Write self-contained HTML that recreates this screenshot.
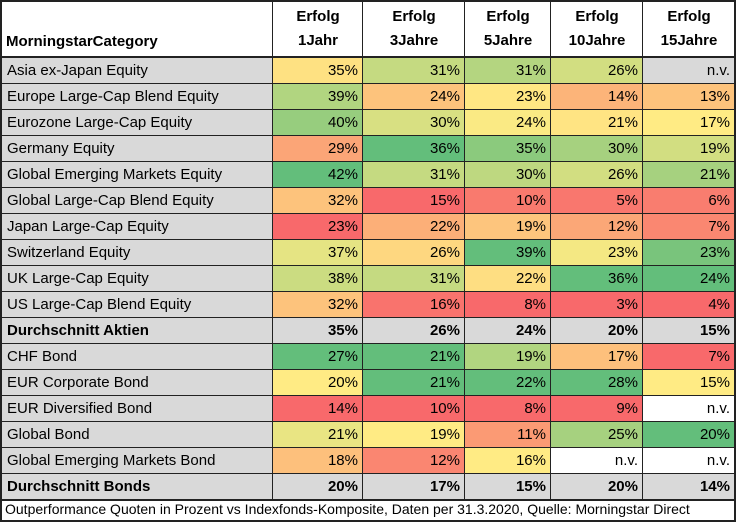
<!DOCTYPE html>
<html><head><meta charset="utf-8"><style>
body{margin:0;background:#fff;}
#w{position:relative;width:736px;height:523px;font-family:"Liberation Sans",Arial,sans-serif;overflow:hidden}
.c{position:absolute;box-sizing:border-box;border-left:1px solid #222;border-top:1px solid #222;font-size:15px;line-height:25px;white-space:nowrap;overflow:hidden}
.l{padding-left:5px;background:#d9d9d9}
.n{text-align:right;padding-right:5px}
.h{background:#fff;font-weight:bold;text-align:center;line-height:24px;padding-top:4px;border-top:none}
.b{font-weight:bold}
</style></head><body><div id="w"></div>
<script>
var W=document.getElementById('w');
var xs=[1,272,362,464,550,642,734];
var rows=[
["Asia ex-Japan Equity",35,31,31,26,null,0],
["Europe Large-Cap Blend Equity",39,24,23,14,13,0],
["Eurozone Large-Cap Equity",40,30,24,21,17,0],
["Germany Equity",29,36,35,30,19,0],
["Global Emerging Markets Equity",42,31,30,26,21,0],
["Global Large-Cap Blend Equity",32,15,10,5,6,0],
["Japan Large-Cap Equity",23,22,19,12,7,0],
["Switzerland Equity",37,26,39,23,23,0],
["UK Large-Cap Equity",38,31,22,36,24,0],
["US Large-Cap Blend Equity",32,16,8,3,4,0],
["Durchschnitt Aktien",35,26,24,20,15,-1],
["CHF Bond",27,21,19,17,7,1],
["EUR Corporate Bond",20,21,22,28,15,1],
["EUR Diversified Bond",14,10,8,9,null,1],
["Global Bond",21,19,11,25,20,1],
["Global Emerging Markets Bond",18,12,16,null,null,1],
["Durchschnitt Bonds",20,17,15,20,14,-1]];
var R=[248,105,107],Y=[255,235,132],G=[99,190,123];
function pct(a,p){a=a.slice().sort(function(x,y){return x-y});var k=(a.length-1)*p,f=Math.floor(k);return f+1<a.length?a[f]+(a[f+1]-a[f])*(k-f):a[f];}
function mix(a,b,t){return 'rgb('+a.map(function(v,i){return Math.round(v+(b[i]-v)*t)}).join(',')+')';}
function color(g,col,v){var a=rows.filter(function(r){return r[6]===g&&r[col]!=null}).map(function(r){return r[col]});
var mn=Math.min.apply(0,a),mx=Math.max.apply(0,a),md=pct(a,0.5);
if(v<=md)return mix(R,Y,md==mn?1:(v-mn)/(md-mn));return mix(Y,G,(v-md)/(mx-md));}
function cell(x0,x1,y,h,cls,html,bg){var d=document.createElement('div');d.className='c '+cls;d.style.left=x0+'px';d.style.top=y+'px';d.style.width=(x1-x0+1)+'px';d.style.height=h+'px';if(bg)d.style.background=bg;d.innerHTML=html;W.appendChild(d);}
cell(1,272,1,57,'h','',null);
var hd=document.createElement('div');hd.style.cssText='position:absolute;left:6px;top:33px;font-weight:bold;font-size:15px';hd.textContent='MorningstarCategory';W.appendChild(hd);
var hs=['1Jahr','3Jahre','5Jahre','10Jahre','15Jahre'];
for(var i=0;i<5;i++)cell(xs[i+1],xs[i+2],1,57,'h','Erfolg<br>'+hs[i]);
var y=57;
rows.forEach(function(r){
 var b=r[6]<0?' b':'';
 cell(1,272,y,27,'l'+b,r[0]);
 for(var i=1;i<=5;i++){var v=r[i],bg;
  if(r[6]<0)bg='#d9d9d9';else if(v==null)bg=r[6]==0?'#d9d9d9':'#fff';else bg=color(r[6],i,v);
  cell(xs[i],xs[i+1],y,27,'n'+b,v==null?'n.v.':v+'%',bg);}
 y+=26;});
var f=document.createElement('div');f.style.cssText='position:absolute;left:5px;top:'+(y+2)+'px;font-size:14px;white-space:nowrap';f.textContent='Outperformance Quoten in Prozent vs Indexfonds-Komposite, Daten per 31.3.2020, Quelle: Morningstar Direct';W.appendChild(f);
var o=document.createElement('div');o.style.cssText='position:absolute;left:0;top:0;width:736px;height:'+(y+23)+'px;box-sizing:border-box;border:2px solid #222';W.appendChild(o);
var l=document.createElement('div');l.style.cssText='position:absolute;left:0;top:'+y+'px;width:736px;height:2px;background:#222';W.appendChild(l);
var l2=document.createElement('div');l2.style.cssText='position:absolute;left:0;top:56px;width:736px;height:2px;background:#222';W.appendChild(l2);
</script></body></html>
